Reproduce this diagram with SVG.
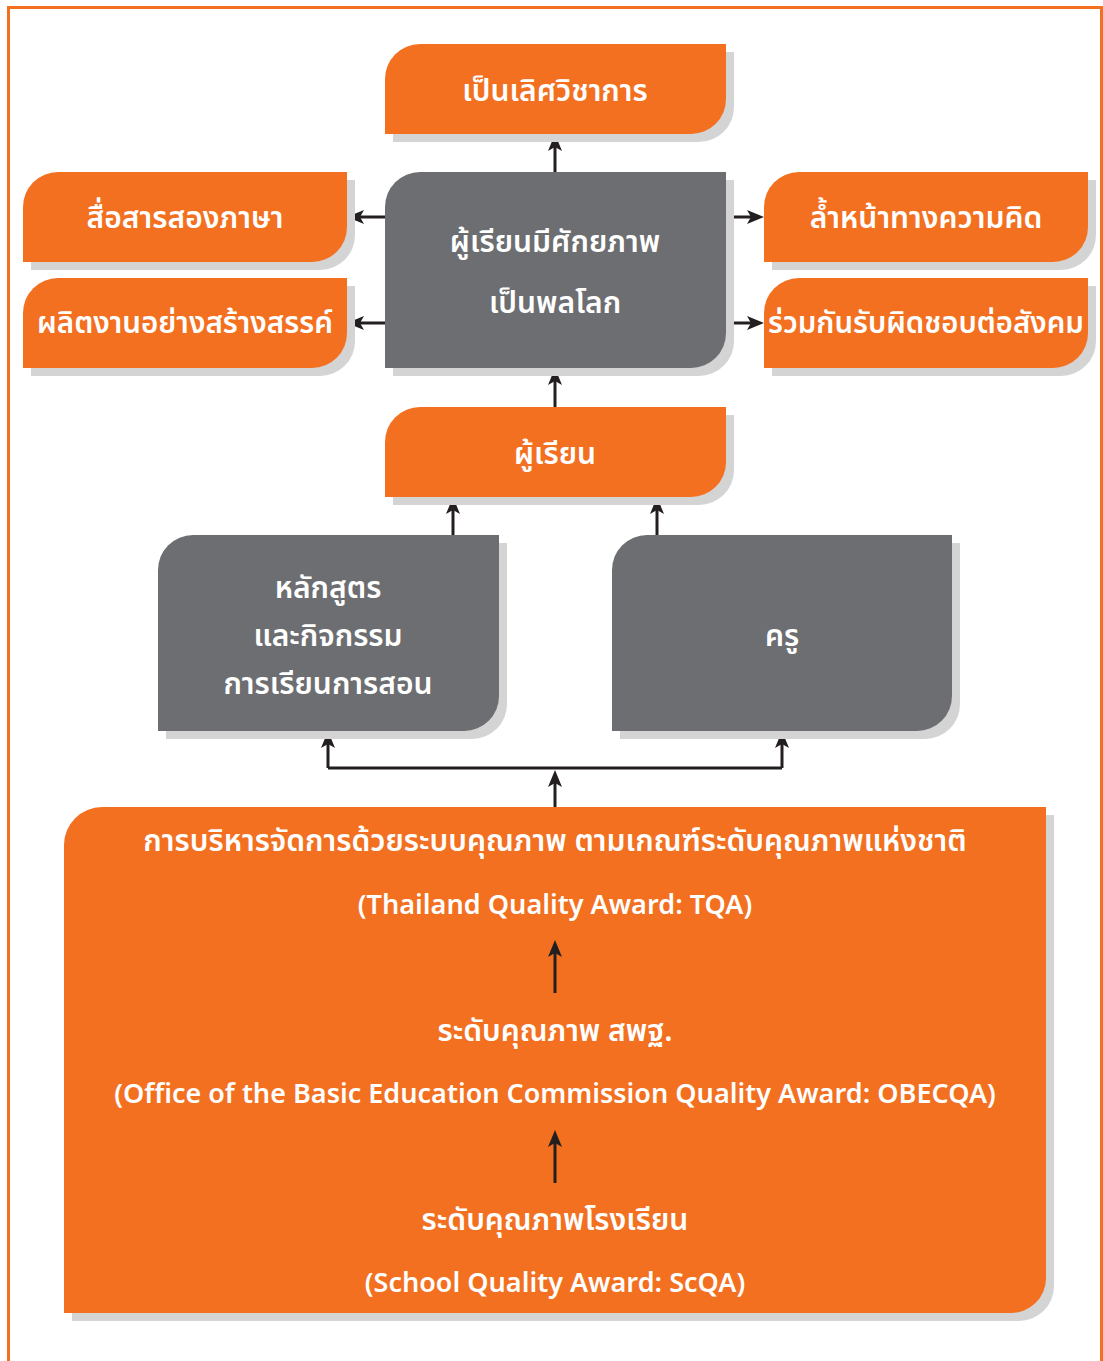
<svg xmlns="http://www.w3.org/2000/svg" width="1103" height="1361" viewBox="0 0 1103 1361">
<defs>
<style>
.o{fill:#F37021}
.g{fill:#6D6E71}
.s{fill:#D4D4D4}
.t{fill:#FFFFFF;font-family:"Noto Sans Thai","Noto Sans Thai Looped","Noto Sans",sans-serif;font-size:30px;font-weight:600;text-anchor:middle;dominant-baseline:central}
.e{font-size:27px}
.c{fill:none;stroke:#231F20;stroke-width:3}
.frame{fill:none;stroke:#F37021;stroke-width:3}
</style>
<marker id="ah" markerUnits="userSpaceOnUse" viewBox="0 0 17 14" markerWidth="17" markerHeight="14" refX="12" refY="7" orient="auto" overflow="visible">
<path d="M0,0 L17,7 L0,14 L4,7 Z" fill="#231F20"/>
</marker>
</defs>
<rect width="1103" height="1361" fill="#FFFFFF"/>
<path class="frame" d="M8.5,1361 V7.5 H1101.5 V1361"/>

<g id="connectors">
<path class="c" d="M555,172 V139" marker-end="url(#ah)"/>
<path class="c" d="M385,217 H352" marker-end="url(#ah)"/>
<path class="c" d="M385,323 H352" marker-end="url(#ah)"/>
<path class="c" d="M726,217 H759" marker-end="url(#ah)"/>
<path class="c" d="M726,323 H759" marker-end="url(#ah)"/>
<path class="c" d="M555,407 V373" marker-end="url(#ah)"/>
<path class="c" d="M453,535 V502" marker-end="url(#ah)"/>
<path class="c" d="M657,535 V502" marker-end="url(#ah)"/>
<path class="c" d="M328,768 H782"/>
<path class="c" d="M328,768 V736" marker-end="url(#ah)"/>
<path class="c" d="M782,768 V736" marker-end="url(#ah)"/>
<path class="c" d="M555,808 V775" marker-end="url(#ah)"/>
</g>

<g id="n-academic">
<path class="s" d="M428,52 H734 V107 A35,35 0 0 1 699,142 H393 V87 A35,35 0 0 1 428,52 Z"/>
<path class="o" d="M420,44 H726 V99 A35,35 0 0 1 691,134 H385 V79 A35,35 0 0 1 420,44 Z"/>
<text class="t" x="555" y="92">เป็นเลิศวิชาการ</text>
</g>

<g id="n-potential">
<path class="s" d="M428,180 H734 V341 A35,35 0 0 1 699,376 H393 V215 A35,35 0 0 1 428,180 Z"/>
<path class="g" d="M420,172 H726 V333 A35,35 0 0 1 691,368 H385 V207 A35,35 0 0 1 420,172 Z"/>
<text class="t" x="555" y="243">ผู้เรียนมีศักยภาพ</text>
<text class="t" x="555" y="304">เป็นพลโลก</text>
</g>

<g id="n-bilingual">
<path class="s" d="M66,180 H355 V235 A35,35 0 0 1 320,270 H31 V215 A35,35 0 0 1 66,180 Z"/>
<path class="o" d="M58,172 H347 V227 A35,35 0 0 1 312,262 H23 V207 A35,35 0 0 1 58,172 Z"/>
<text class="t" x="185" y="219">สื่อสารสองภาษา</text>
</g>

<g id="n-creative">
<path class="s" d="M66,286 H355 V341 A35,35 0 0 1 320,376 H31 V321 A35,35 0 0 1 66,286 Z"/>
<path class="o" d="M58,278 H347 V333 A35,35 0 0 1 312,368 H23 V313 A35,35 0 0 1 58,278 Z"/>
<text class="t" x="185" y="324" textLength="296" lengthAdjust="spacingAndGlyphs">ผลิตงานอย่างสร้างสรรค์</text>
</g>

<g id="n-thinking">
<path class="s" d="M807,180 H1096 V235 A35,35 0 0 1 1061,270 H772 V215 A35,35 0 0 1 807,180 Z"/>
<path class="o" d="M799,172 H1088 V227 A35,35 0 0 1 1053,262 H764 V207 A35,35 0 0 1 799,172 Z"/>
<text class="t" x="926" y="219">ล้ำหน้าทางความคิด</text>
</g>

<g id="n-social">
<path class="s" d="M807,286 H1096 V341 A35,35 0 0 1 1061,376 H772 V321 A35,35 0 0 1 807,286 Z"/>
<path class="o" d="M799,278 H1088 V333 A35,35 0 0 1 1053,368 H764 V313 A35,35 0 0 1 799,278 Z"/>
<text class="t" x="926" y="324" textLength="316" lengthAdjust="spacingAndGlyphs">ร่วมกันรับผิดชอบต่อสังคม</text>
</g>

<g id="n-learner">
<path class="s" d="M428,415 H734 V470 A35,35 0 0 1 699,505 H393 V450 A35,35 0 0 1 428,415 Z"/>
<path class="o" d="M420,407 H726 V462 A35,35 0 0 1 691,497 H385 V442 A35,35 0 0 1 420,407 Z"/>
<text class="t" x="555" y="455">ผู้เรียน</text>
</g>

<g id="n-curriculum">
<path class="s" d="M201,543 H507 V704 A35,35 0 0 1 472,739 H166 V578 A35,35 0 0 1 201,543 Z"/>
<path class="g" d="M193,535 H499 V696 A35,35 0 0 1 464,731 H158 V570 A35,35 0 0 1 193,535 Z"/>
<text class="t" x="328" y="589">หลักสูตร</text>
<text class="t" x="328" y="637">และกิจกรรม</text>
<text class="t" x="328" y="685">การเรียนการสอน</text>
</g>

<g id="n-teacher">
<path class="s" d="M655,543 H960 V704 A35,35 0 0 1 925,739 H620 V578 A35,35 0 0 1 655,543 Z"/>
<path class="g" d="M647,535 H952 V696 A35,35 0 0 1 917,731 H612 V570 A35,35 0 0 1 647,535 Z"/>
<text class="t" x="782" y="637">ครู</text>
</g>

<g id="n-quality">
<path class="s" d="M110,815 H1054 V1286 A35,35 0 0 1 1019,1321 H72 V853 A38,38 0 0 1 110,815 Z"/>
<path class="o" d="M102,807 H1046 V1278 A35,35 0 0 1 1011,1313 H64 V845 A38,38 0 0 1 102,807 Z"/>
<text class="t" x="555" y="842">การบริหารจัดการด้วยระบบคุณภาพ ตามเกณฑ์ระดับคุณภาพแห่งชาติ</text>
<text class="t e" x="555" y="905">(Thailand Quality Award: TQA)</text>
<path class="c" d="M555,993 V945" marker-end="url(#ah)"/>
<text class="t" x="555" y="1032">ระดับคุณภาพ สพฐ.</text>
<text class="t e" x="555" y="1094">(Office of the Basic Education Commission Quality Award: OBECQA)</text>
<path class="c" d="M555,1183 V1135" marker-end="url(#ah)"/>
<text class="t" x="555" y="1221">ระดับคุณภาพโรงเรียน</text>
<text class="t e" x="555" y="1283">(School Quality Award: ScQA)</text>
</g>
</svg>
